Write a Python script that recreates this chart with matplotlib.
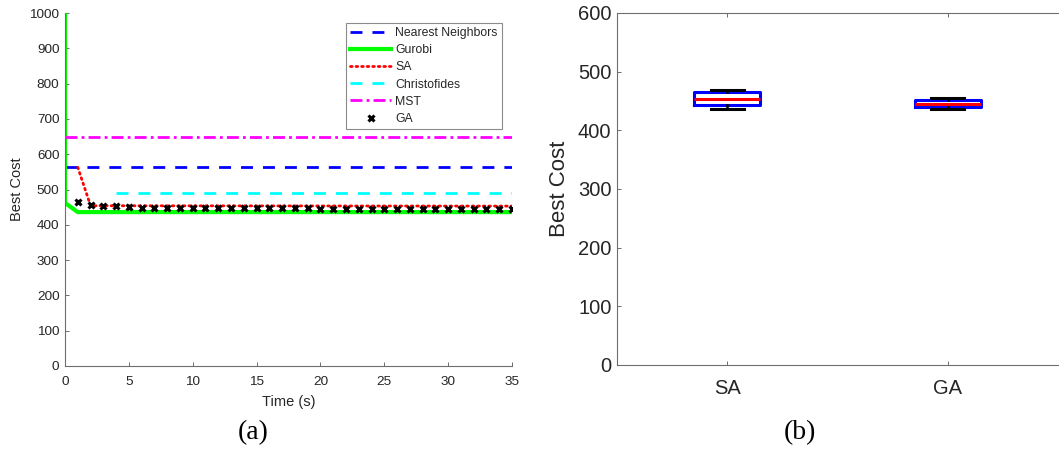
import numpy as np
import matplotlib
matplotlib.use('Agg')
import matplotlib.pyplot as plt

plt.rcParams['font.family'] = ['Liberation Sans', 'DejaVu Sans']

# (a) convergence over time
gurobi_t = [0, 0, 1, 35]
gurobi_cost = [1000, 462, 436, 436]
nn_t = [0, 35]
nn_cost = [563, 563]
mst_t = [0, 35]
mst_cost = [648, 648]
christo_t = [4, 35]
christo_cost = [490, 490]
sa_t = [1, 2, 35]
sa_cost = [563, 454, 453]
ga_t = list(range(1, 36))
ga_cost = [464, 455, 452, 453, 450, 448, 448, 447, 447, 447,
           447, 447, 447, 447, 447, 447, 447, 447, 447, 446,
           446, 446, 446, 446, 446, 446, 446, 446, 446, 446,
           446, 446, 446, 446, 446]

# (b) box plot statistics
box_labels = ['SA', 'GA']
box_whislo = [437, 437]
box_q1 = [444, 440]
box_med = [454, 445]
box_q3 = [465, 451]
box_whishi = [468, 455]

TXT = '#262626'
SPN = '#6e6e6e'

fig = plt.figure(figsize=(10.59, 4.53), dpi=100)
ax1 = fig.add_axes([65 / 1059, 1 - 366 / 453, 447 / 1059, 353 / 453])
ax2 = fig.add_axes([617 / 1059, 1 - 365 / 453, 441 / 1059, 352 / 453])

# ---- (a)
ax1.plot(nn_t, nn_cost, color=(0, 0, 1), lw=2, linestyle=(0, (4.3, 3.6)), label='Nearest Neighbors')
ax1.plot(gurobi_t, gurobi_cost, color=(0, 1, 0), lw=3, label='Gurobi', solid_joinstyle='miter')
ax1.plot(sa_t, sa_cost, color=(1, 0, 0), lw=2, linestyle=(0, (0.6, 1.4)), dash_capstyle='round', label='SA')
ax1.plot(christo_t, christo_cost, color=(0, 1, 1), lw=2, linestyle=(0, (4.3, 3.6)), label='Christofides')
ax1.plot(mst_t, mst_cost, color=(1, 0, 1), lw=2, linestyle=(0, (4.3, 1.5, 1.0, 1.5)), label='MST')
ax1.plot(ga_t, ga_cost, linestyle='none', marker='x', color='k', ms=5, mew=2.2, label='GA')

ax1.set_xlim(0, 35)
ax1.set_ylim(0, 1000)
ax1.set_xticks(np.arange(0, 36, 5))
ax1.set_yticks(np.arange(0, 1001, 100))
ax1.set_xlabel('Time (s)', fontsize=10.5, color=TXT, labelpad=5)
ax1.set_ylabel('Best Cost', fontsize=10.5, color=TXT, labelpad=4)
ax1.tick_params(direction='in', length=3, width=0.7, colors=SPN, labelcolor=TXT, labelsize=9.7)
ax1.tick_params(axis='x', pad=7)
ax1.tick_params(axis='y', pad=4)
for s in ['top', 'right']:
    ax1.spines[s].set_visible(False)
for s in ['left', 'bottom']:
    ax1.spines[s].set_color(SPN)
    ax1.spines[s].set_linewidth(0.8)

leg = ax1.legend(loc='upper right', bbox_to_anchor=(0.977, 0.972), fontsize=8.8, frameon=True, fancybox=False,
                 handlelength=3.4, handletextpad=0.3, labelspacing=0.42, borderpad=0.35, borderaxespad=0)
leg.get_frame().set_edgecolor(SPN)
leg.get_frame().set_linewidth(0.8)
for t in leg.get_texts():
    t.set_color(TXT)

fig.text(253 / 1059, 1 - 433 / 453, '(a)', fontsize=20, family='Liberation Serif', ha='center', va='center', color='k')

# ---- (b)
stats = []
for i, lab in enumerate(box_labels):
    stats.append(dict(label=lab, whislo=box_whislo[i], q1=box_q1[i], med=box_med[i],
                      q3=box_q3[i], whishi=box_whishi[i], fliers=[]))
ax2.bxp(stats, positions=[1, 2], widths=0.3, showfliers=False,
        boxprops=dict(color=(0, 0, 1), linewidth=2.2),
        medianprops=dict(color=(1, 0, 0), linewidth=2.2),
        whiskerprops=dict(color='k', linewidth=1.8),
        capprops=dict(color='k', linewidth=2.2), capwidths=0.15)

ax2.set_xlim(0.5, 2.5)
ax2.set_ylim(0, 600)
ax2.set_yticks(np.arange(0, 601, 100))
ax2.set_xticks([1, 2])
ax2.set_xticklabels(box_labels)
ax2.set_ylabel('Best Cost', fontsize=16, color=TXT, labelpad=6)
ax2.tick_params(direction='in', length=3, width=0.7, colors=SPN, labelcolor=TXT, labelsize=14.5, pad=10,
                top=True)
ax2.tick_params(axis='y', pad=4)
ax2.spines['right'].set_visible(False)
for s in ['left', 'bottom', 'top']:
    ax2.spines[s].set_color(SPN)
    ax2.spines[s].set_linewidth(0.8)

fig.text(800 / 1059, 1 - 433 / 453, '(b)', fontsize=20, family='Liberation Serif', ha='center', va='center', color='k')

fig.savefig('out.png', dpi=100)
